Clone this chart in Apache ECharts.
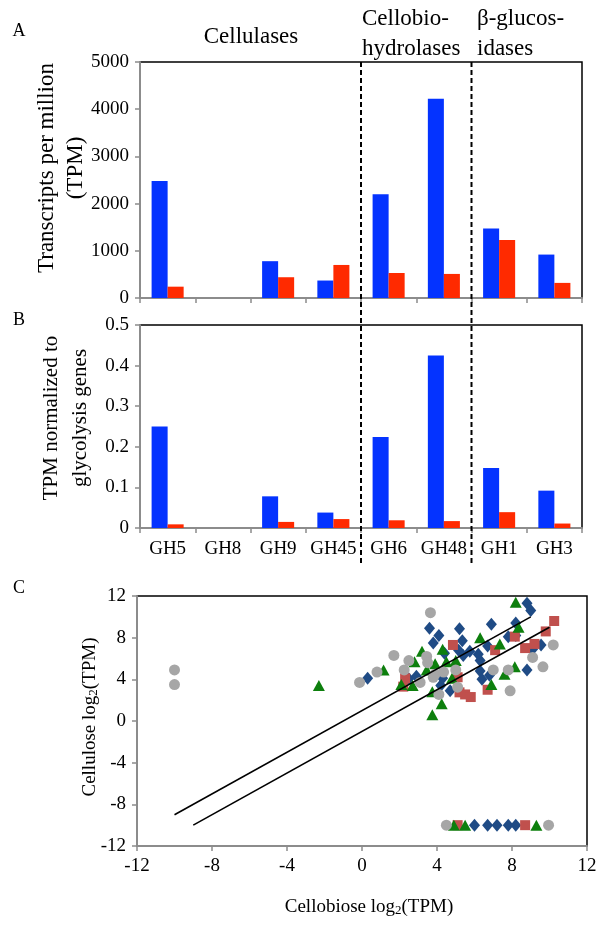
<!DOCTYPE html>
<html>
<head>
<meta charset="utf-8">
<title>GH transcripts</title>
<script src="https://cdn.jsdelivr.net/npm/echarts@6/dist/echarts.min.js"></script>
<style>
  html, body { margin: 0; padding: 0; background: #fff; }
  #main { width: 600px; height: 930px; }
</style>
</head>
<body>
<div id="main"></div>
<script>
// panel A / B: categories and bar values
var families = ['GH5', 'GH8', 'GH9', 'GH45', 'GH6', 'GH48', 'GH1', 'GH3'];
var tpmBlue = [2480, 0, 780, 370, 2200, 4220, 1470, 920];
var tpmRed = [240, 0, 440, 700, 530, 510, 1230, 320];
var normBlue = [0.250, 0, 0.078, 0.038, 0.224, 0.425, 0.148, 0.092];
var normRed = [0.009, 0, 0.015, 0.022, 0.019, 0.017, 0.039, 0.011];
var groupBreaks = [4, 6]; // dashed separators after GH45 and GH48

// panel C: scatter points [cellobiose, cellulose]
var diamonds = [[0.3, 4.1], [2.5, 4.05], [2.9, 4.3], [3.6, 8.9], [3.8, 7.5], [4.1, 8.2], [4.2, 3.4],
  [4.3, 4.1], [4.4, 6.5], [4.7, 2.9], [5.15, 6.8], [5.2, 8.85], [5.35, 7.7], [5.4, 6.3], [5.75, 6.7],
  [6.2, 6.4], [6.3, 5.8], [6.3, 4.8], [6.4, 4.0], [6.7, 7.2], [6.8, 4.4], [6.9, 9.3], [7.8, 8.1],
  [8.2, 8.2], [8.2, 9.4], [8.8, 11.3], [8.8, 4.9], [9.0, 10.6], [9.1, 6.9], [9.55, 7.3],
  [6.0, -10], [6.7, -10], [7.2, -10], [7.8, -10], [8.2, -10]];
var squares = [[2.3, 4.1], [2.2, 3.3], [4.85, 7.3], [5.1, 4.2], [5.2, 2.75], [5.5, 2.55], [5.8, 2.3],
  [6.7, 3.0], [7.1, 6.8], [8.15, 8.1], [8.7, 7.0], [9.2, 7.4], [9.8, 8.6], [10.25, 9.6],
  [5.1, -10], [8.7, -10]];
var triangles = [[-2.3, 3.4], [1.15, 4.9], [2.1, 3.5], [2.7, 3.4], [2.8, 5.7], [3.2, 6.7], [3.45, 4.9],
  [3.75, 2.8], [3.75, 0.6], [3.9, 5.5], [4.3, 6.9], [4.25, 1.65], [4.5, 5.7], [4.8, 4.1], [5.0, 5.8],
  [6.3, 8.0], [6.9, 3.5], [7.35, 7.4], [7.6, 4.5], [8.15, 5.2], [8.2, 11.4], [8.35, 9.0],
  [4.9, -10], [5.5, -10], [9.3, -10]];
var circles = [[-10, 4.9], [-10, 3.5], [-0.13, 3.7], [0.8, 4.7], [1.7, 6.3], [2.25, 4.9], [2.5, 5.8],
  [3.1, 3.7], [3.45, 6.2], [3.5, 5.6], [3.65, 10.4], [3.8, 4.2], [3.9, 4.5], [4.1, 2.55], [4.35, 4.7],
  [5.0, 4.9], [5.1, 3.25], [7.0, 4.9], [7.8, 4.9], [7.9, 2.9], [9.1, 6.1], [9.65, 5.2], [10.2, 7.3],
  [4.5, -10], [9.95, -10]];
var fitUpper = [[-10, -9], [9, 10]];
var fitLower = [[-9, -10], [10, 9]];

var serif = 'Liberation Serif';
var axisGray = '#8c8c8c';
var blue = '#0433ff';
var red = '#ff2a00';

var gridA = {left: 140, top: 62, width: 442, height: 236};
var gridB = {left: 140, top: 325, width: 442, height: 203};
var gridC = {left: 137, top: 596, width: 450, height: 250};

var chart = echarts.init(document.getElementById('main'));

function plain(v) {
    return String(+v.toFixed(1));
}

function gridOf(g) {
    return {
        left: g.left, top: g.top, width: g.width, height: g.height,
        show: true, borderColor: '#000', borderWidth: 1.5,
        containLabel: false, outerBoundsMode: 'none'
    };
}

function catAxis(idx, showLabels) {
    return {
        type: 'category', gridIndex: idx, data: families, boundaryGap: true,
        axisLine: {show: true, lineStyle: {color: axisGray, width: 2}},
        axisTick: {show: true, interval: 0, length: 5, lineStyle: {color: axisGray, width: 1.5}},
        axisLabel: {show: showLabels, interval: 0, color: '#000', fontFamily: serif, fontSize: 19, margin: 12},
        splitLine: {show: false}
    };
}

function valAxis(idx, min, max, step, pos) {
    return {
        type: 'value', gridIndex: idx, min: min, max: max, interval: step, position: pos,
        axisLine: {show: true, onZero: false, lineStyle: {color: axisGray, width: 2}},
        axisTick: {show: true, length: 5, lineStyle: {color: axisGray, width: 1.5}},
        axisLabel: {color: '#000', fontFamily: serif, fontSize: 19, margin: 11, formatter: plain},
        splitLine: {show: false}
    };
}

function bar(name, data, color, x, y) {
    return {
        name: name, type: 'bar', xAxisIndex: x, yAxisIndex: y, data: data,
        barWidth: '29%', barGap: '0%',
        itemStyle: {color: color}, silent: true
    };
}

function scatter(name, data, symbol, size, color) {
    return {
        name: name, type: 'scatter', xAxisIndex: 2, yAxisIndex: 2, data: data,
        symbol: symbol, symbolSize: size, itemStyle: {color: color, opacity: 1}, silent: true
    };
}

function fitLine(name, data) {
    return {
        name: name, type: 'line', xAxisIndex: 2, yAxisIndex: 2, data: data, z: 5,
        symbol: 'none', lineStyle: {color: '#000', width: 1.6}, silent: true
    };
}

function txt(text, x, y, size, opts) {
    var o = opts || {};
    return {
        type: 'text', x: x, y: y, rotation: o.rot || 0, z: 10,
        style: {
            text: text, fill: '#000', font: size + 'px "' + serif + '"',
            align: o.align || 'center', verticalAlign: 'middle', rich: o.rich
        }
    };
}

// dashed separators between the enzyme groups, derived from the category bands
var dashed = groupBreaks.map(function (b) {
    var x = gridA.left + gridA.width * b / families.length;
    return {
        type: 'line', z: 10,
        shape: {x1: x, y1: gridA.top, x2: x, y2: 566},
        style: {stroke: '#000', lineWidth: 2, lineDash: [5, 3]}
    };
});

var subRich = {sub: {fontSize: 13, fontFamily: serif, verticalAlign: 'bottom', padding: [8, 0, 0, 0]}};

var option = {
    animation: false,
    backgroundColor: '#fff',
    textStyle: {fontFamily: serif},
    grid: [gridOf(gridA), gridOf(gridB), gridOf(gridC)],
    xAxis: [
        catAxis(0, false),
        catAxis(1, true),
        valAxis(2, -12, 12, 4, 'bottom')
    ],
    yAxis: [
        valAxis(0, 0, 5000, 1000, 'left'),
        valAxis(1, 0, 0.5, 0.1, 'left'),
        valAxis(2, -12, 12, 4, 'left')
    ],
    series: [
        bar('Blue TPM', tpmBlue, blue, 0, 0),
        bar('Red TPM', tpmRed, red, 0, 0),
        bar('Blue normalized', normBlue, blue, 1, 1),
        bar('Red normalized', normRed, red, 1, 1),
        scatter('Diamonds', diamonds, 'diamond', [11, 13], '#1f4b85'),
        scatter('Squares', squares, 'rect', 10, '#c0504d'),
        scatter('Triangles', triangles, 'triangle', [12, 11], '#0d7f0d'),
        scatter('Circles', circles, 'circle', 11, '#a6a6a6'),
        fitLine('y = x + 1', fitUpper),
        fitLine('y = x - 1', fitLower)
    ],
    graphic: dashed.concat([
        txt('A', 19, 31, 18),
        txt('B', 19, 320, 18),
        txt('C', 19, 588, 18),
        txt('Cellulases', 251, 37, 23),
        txt('Cellobio-', 362, 19, 23, {align: 'left'}),
        txt('hydrolases', 362, 49, 23, {align: 'left'}),
        txt('β-glucos-', 477, 19, 23, {align: 'left'}),
        txt('idases', 477, 49, 23, {align: 'left'}),
        txt('Transcripts per million', 47, 168, 23, {rot: Math.PI / 2}),
        txt('(TPM)', 76, 168, 23, {rot: Math.PI / 2}),
        txt('TPM normalized to', 51, 418, 21, {rot: Math.PI / 2}),
        txt('glycolysis genes', 80, 418, 21, {rot: Math.PI / 2}),
        txt('Cellulose log{sub|2}(TPM)', 90, 717, 19, {rot: Math.PI / 2, rich: subRich}),
        txt('Cellobiose log{sub|2}(TPM)', 369, 907, 19, {rich: subRich})
    ])
};

chart.setOption(option);
</script>
</body>
</html>
